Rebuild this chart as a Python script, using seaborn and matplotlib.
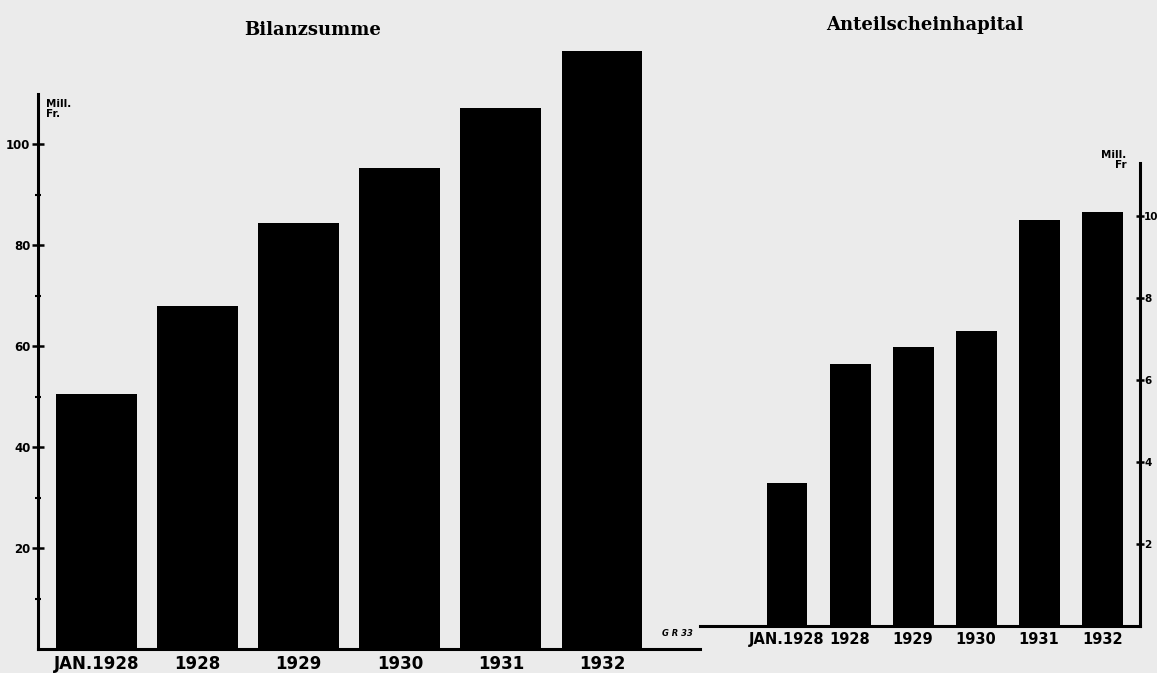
import matplotlib
matplotlib.use("Agg")
import matplotlib.pyplot as plt
import seaborn as sns
import pandas as pd

sns.set_theme(style="white")
plt.rcParams['font.family'] = ['DejaVu Sans']
plt.rcParams['text.color'] = 'black'
plt.rcParams['xtick.color'] = 'black'
plt.rcParams['ytick.color'] = 'black'
plt.rcParams['xtick.labelcolor'] = 'black'
plt.rcParams['ytick.labelcolor'] = 'black'

# Data
cats = ["JAN. 1928", "1928", "1929", "1930", "1931", "1932"]
tick_labels = ["JAN.1928", "1928", "1929", "1930", "1931", "1932"]
bilanz = [50.5, 68, 84.4, 95.2, 107.1, 118.4]        # Mill. Fr.
anteil = [3.5, 6.4, 6.8, 7.2, 9.9, 10.1]             # Mill. Fr.
left_ticks = [20, 40, 60, 80, 100]
right_ticks = [2, 4, 6, 8, 10]

bg = "#ebebeb"
W, H = 1157, 673
fig = plt.figure(figsize=(W / 100, H / 100), dpi=100, facecolor=bg)

def fx(px): return px / W
def fy(px): return 1 - px / H

# Left panel
lb, lt = 649, 649 - 120 * 5.05
axL = fig.add_axes([fx(38), fy(lb), fx(700 - 38), (lb - lt) / H])
axL.set_facecolor("none")
dfL = pd.DataFrame({"cat": cats, "val": bilanz})
sns.barplot(data=dfL, x="cat", y="val", color="black", saturation=1,
            width=0.8, ax=axL, edgecolor="black", linewidth=0)
axL.set_xlim(-0.58, 5.97)
axL.set_ylim(0, 120)
axL.set_xlabel("")
axL.set_ylabel("")
for s in ["top", "right"]:
    axL.spines[s].set_visible(False)
axL.spines["left"].set_bounds(0, 110)
for s in ["left", "bottom"]:
    axL.spines[s].set_linewidth(2.2)
    axL.spines[s].set_color("black")
axL.set_yticks(left_ticks)
axL.set_yticklabels([str(t) for t in left_ticks], fontsize=8.5, fontweight="bold")
axL.set_yticks([10, 30, 50, 70, 90], minor=True)
axL.tick_params(axis="y", which="major", direction="inout", length=9, width=1.8,
                left=True, pad=1)
axL.tick_params(axis="y", which="minor", direction="inout", length=4, width=1.5,
                left=True)
axL.tick_params(axis="x", length=0, pad=4)
axL.set_xticks(range(len(cats)))
axL.set_xticklabels(tick_labels, fontsize=12, fontweight="bold")
axL.text(-0.50, 109, "Mill.\nFr.", fontsize=7.5, fontweight="bold",
         va="top", ha="left", linespacing=1.0)
axL.text(5.75, 2.5, "G R 33", fontsize=6, fontstyle="italic",
         fontweight="bold", ha="center")
fig.text(fx(313), fy(30), "Bilanzsumme", fontsize=13, fontweight="bold",
         family="DejaVu Serif", ha="center", va="center")

# Right panel
rb, rt = 626, 626 - 14 * 41
axR = fig.add_axes([fx(700), fy(rb), fx(1140 - 700), (rb - rt) / H])
axR.set_facecolor("none")
dfR = pd.DataFrame({"cat": cats, "val": anteil})
sns.barplot(data=dfR, x="cat", y="val", color="black", saturation=1,
            width=0.65, ax=axR, edgecolor="black", linewidth=0)
axR.set_xlim(-1.38, 5.6)
axR.set_ylim(0, 14)
axR.set_xlabel("")
axR.set_ylabel("")
for s in ["top", "left"]:
    axR.spines[s].set_visible(False)
axR.spines["right"].set_bounds(0, 11.3)
for s in ["right", "bottom"]:
    axR.spines[s].set_linewidth(2.2)
    axR.spines[s].set_color("black")
axR.yaxis.tick_right()
axR.set_yticks(right_ticks)
axR.set_yticklabels([str(t) for t in right_ticks], fontsize=7.5, fontweight="bold")
axR.tick_params(axis="y", which="major", direction="inout", length=6, width=1.8,
                right=True, left=False, pad=0)
axR.tick_params(axis="x", length=0, pad=4)
axR.set_xticks(range(len(cats)))
axR.set_xticklabels(tick_labels, fontsize=10.5, fontweight="bold")
axR.text(5.38, 11.6, "Mill.\nFr", fontsize=7.5, fontweight="bold",
         va="top", ha="right", linespacing=1.0)
fig.text(fx(925), fy(25), "Anteilscheinhapital", fontsize=13, fontweight="bold",
         family="DejaVu Serif", ha="center", va="center")

fig.savefig("out.png", dpi=100, facecolor=bg)
